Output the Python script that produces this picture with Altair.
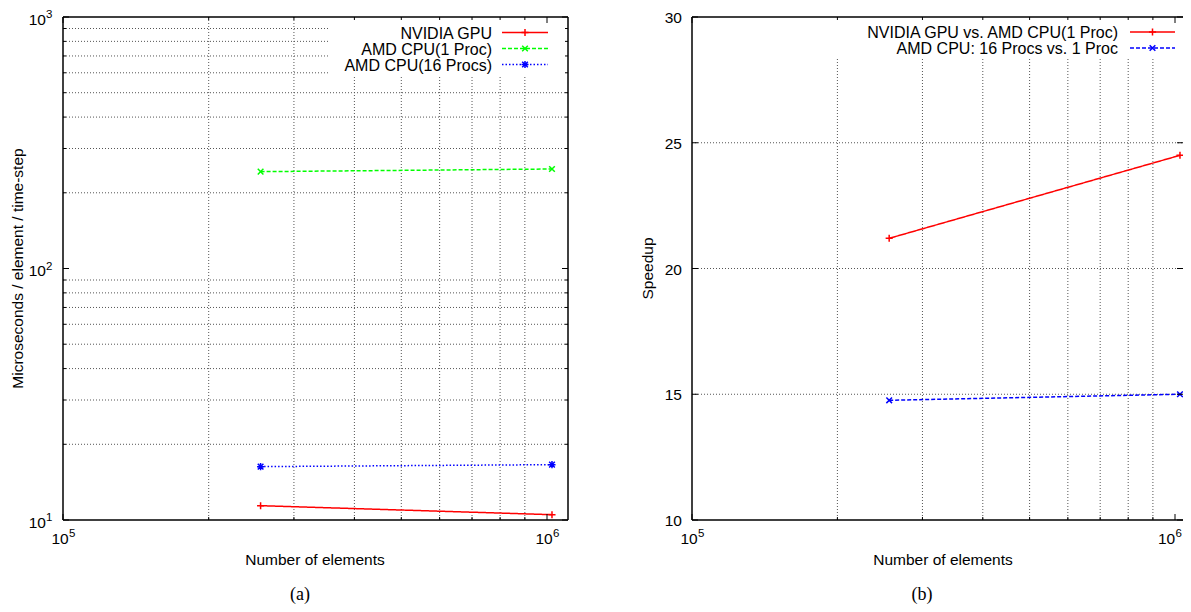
import altair as alt
import pandas as pd

# ---------------- data ----------------
elements = [256000, 1024000]
gpu_us = [11.4, 10.5]          # NVIDIA GPU, microseconds / element / time-step
cpu1_us = [242.7, 248.7]       # AMD CPU (1 Proc)
cpu16_us = [16.3, 16.6]        # AMD CPU (16 Procs)
speedup_gpu = [21.2, 24.5]     # NVIDIA GPU vs. AMD CPU(1 Proc)
speedup_cpu16 = [14.76, 15.0]  # AMD CPU: 16 Procs vs. 1 Proc

x_major = [1e5, 1e6]
x_major_exp = ["5", "6"]
x_minor = [2e5, 3e5, 4e5, 5e5, 6e5, 7e5, 8e5, 9e5]
ylog_major = [10, 100, 1000]
ylog_major_exp = ["1", "2", "3"]
ylog_minor = [20, 30, 40, 50, 60, 70, 80, 90, 200, 300, 400, 500, 600, 700, 800, 900]
ylin_major = [10, 15, 20, 25, 30]
ylin_grid = [15, 20, 25]

legend_a = ["NVIDIA GPU", "AMD CPU(1 Proc)", "AMD CPU(16 Procs)"]
legend_b = ["NVIDIA GPU vs. AMD CPU(1 Proc)", "AMD CPU: 16 Procs vs. 1 Proc"]

# ---------------- layout / styling ----------------
FONT = "Liberation Sans"
FS = 15.5
W, H = 1120, 503                 # whole drawing area (both panels), origin = top-left of panel (a)
AL, AR = 0, 505                  # panel (a) left / right edge
BL, BR = 629, 1120               # panel (b) left / right edge (right frame lies beyond the page)
DEC = 484                        # pixels per decade on the x axes
RED, GREEN, BLUE = "#ff0000", "#00ff00", "#0000ff"
GRID = "#555555"
PLUS = "M-1,0L1,0M0,-1L0,1"
CROSS = "M-0.8,-0.8L0.8,0.8M-0.8,0.8L0.8,-0.8"
STAR = "M-1,0L1,0M0,-1L0,1M-0.8,-0.8L0.8,0.8M-0.8,0.8L0.8,-0.8"
MSIZE = 50

one = pd.DataFrame({"k": [0]})

xs_a = alt.Scale(type="log", domain=[1e5, 1e6], range=[AL, AL + DEC], nice=False)
ys_a = alt.Scale(type="log", domain=[10, 1000], range=[H, 0], nice=False)
xs_b = alt.Scale(type="log", domain=[1e5, 1e6], range=[BL, BL + DEC - 1], nice=False)
ys_b = alt.Scale(domain=[10, 30], range=[H, 0], nice=False, zero=False)


def vals(v, **extra):
    d = {"v": v}
    d.update(extra)
    return pd.DataFrame(d)


def X(s):
    return alt.X("v:Q", scale=s, axis=None)


def Y(s):
    return alt.Y("v:Q", scale=s, axis=None)


def grid(xs, ys, x0, x1, ygrid):
    return [
        alt.Chart(vals(x_minor)).mark_rule(color=GRID, strokeDash=[1, 2], strokeWidth=1).encode(
            x=X(xs), y=alt.value(0), y2=alt.value(H)),
        alt.Chart(vals(ygrid)).mark_rule(color=GRID, strokeDash=[1, 2], strokeWidth=1).encode(
            y=Y(ys), x=alt.value(x0), x2=alt.value(x1)),
    ]


def ticks(xs, ys, x0, x1, ymaj, ymin):
    layers = []
    for lst, ln in ((x_major, 6), (x_minor, 3)):
        layers.append(alt.Chart(vals(lst)).mark_rule(color="black", strokeWidth=1).encode(
            x=X(xs), y=alt.value(H), y2=alt.value(H - ln)))
        layers.append(alt.Chart(vals(lst)).mark_rule(color="black", strokeWidth=1).encode(
            x=X(xs), y=alt.value(0), y2=alt.value(ln)))
    for lst, ln in ((ymaj, 6), (ymin, 3)):
        if not lst:
            continue
        layers.append(alt.Chart(vals(lst)).mark_rule(color="black", strokeWidth=1).encode(
            y=Y(ys), x=alt.value(x0), x2=alt.value(x0 + ln)))
        layers.append(alt.Chart(vals(lst)).mark_rule(color="black", strokeWidth=1).encode(
            y=Y(ys), x=alt.value(x1), x2=alt.value(x1 - ln)))
    return layers


def frame(x0, x1, right=True):
    sides = [(x0, x1, 0, 0), (x0, x1, H, H), (x0, x0, 0, H)]
    if right:
        sides.append((x1, x1, 0, H))
    return [alt.Chart(one).mark_rule(color="black", strokeWidth=1.5).encode(
        x=alt.value(a), x2=alt.value(b), y=alt.value(c), y2=alt.value(d)) for a, b, c, d in sides]


def series(xs, ys, yvals, color, dash, shape):
    df = pd.DataFrame({"n": elements, "v": yvals})
    base = alt.Chart(df).encode(x=alt.X("n:Q", scale=xs, axis=None), y=Y(ys))
    return [base.mark_line(color=color, strokeDash=dash, strokeWidth=1.5),
            base.mark_point(shape=shape, size=MSIZE, filled=False, color=color, strokeWidth=1.5, opacity=1)]


def legend(labels, styles, text_x, x1, x2, y0, dy):
    layers = []
    for i, (lab, (color, dash, shape)) in enumerate(zip(labels, styles)):
        yy = y0 + i * dy
        layers.append(alt.Chart(pd.DataFrame({"t": [lab]})).mark_text(
            font=FONT, fontSize=16, align="right", baseline="middle", color="black").encode(
            x=alt.value(text_x), y=alt.value(yy + 1), text="t:N"))
        layers.append(alt.Chart(one).mark_rule(color=color, strokeDash=dash, strokeWidth=1.5).encode(
            x=alt.value(x1), x2=alt.value(x2), y=alt.value(yy)))
        layers.append(alt.Chart(one).mark_point(shape=shape, size=MSIZE, filled=False, color=color,
                                                strokeWidth=1.5, opacity=1).encode(
            x=alt.value((x1 + x2) / 2), y=alt.value(yy)))
    return layers


def xlabel(xs, value, exp, shift=0):
    main = alt.Chart(vals([value], t=["10"])).mark_text(
        font=FONT, fontSize=FS, align="center", baseline="middle", dx=-3 + shift).encode(
        x=X(xs), y=alt.value(H + 18.5), text="t:N")
    sup = alt.Chart(vals([value], t=[exp])).mark_text(
        font=FONT, fontSize=11.5, align="left", baseline="middle", dx=6 + shift).encode(
        x=X(xs), y=alt.value(H + 14), text="t:N")
    return [main, sup]


def box(x1, x2, y2):
    return alt.Chart(one).mark_rect(color="white", opacity=1).encode(
        x=alt.value(x1), x2=alt.value(x2), y=alt.value(0), y2=alt.value(y2))


def text_at(t, x, y, size=FS, angle=0, font=FONT):
    kw = dict(font=font, fontSize=size, align="center", baseline="middle", color="black")
    if angle:
        kw["angle"] = angle
    return alt.Chart(pd.DataFrame({"t": [t]})).mark_text(**kw).encode(
        x=alt.value(x), y=alt.value(y), text="t:N")


layers = []

# ---------------- panel (a) ----------------
layers += grid(xs_a, ys_a, AL, AR, ylog_minor)
layers.append(box(267, AR, 59))
layers += series(xs_a, ys_a, gpu_us, RED, [1, 0], PLUS)
layers += series(xs_a, ys_a, cpu1_us, GREEN, [4, 2], CROSS)
layers += series(xs_a, ys_a, cpu16_us, BLUE, [1.5, 2], STAR)
layers += ticks(xs_a, ys_a, AL, AR, ylog_major, ylog_minor)
layers += frame(AL, AR)
layers += legend(legend_a, [(RED, [1, 0], PLUS), (GREEN, [4, 2], CROSS), (BLUE, [1.5, 2], STAR)],
                 429, 439, 485, 15.5, 16)
layers += xlabel(xs_a, x_major[0], x_major_exp[0])
layers += xlabel(xs_a, x_major[1], x_major_exp[1])
layers.append(alt.Chart(vals(ylog_major, t=["10"] * 3)).mark_text(
    font=FONT, fontSize=FS, align="right", baseline="middle", dy=2.5).encode(
    x=alt.value(AL - 17), y=Y(ys_a), text="t:N"))
layers.append(alt.Chart(vals(ylog_major, t=ylog_major_exp)).mark_text(
    font=FONT, fontSize=11.5, align="left", baseline="middle", dy=-2).encode(
    x=alt.value(AL - 17), y=Y(ys_a), text="t:N"))
layers.append(text_at("Microseconds / element / time-step", AL - 45, H / 2, angle=270))
layers.append(text_at("Number of elements", 252, H + 40))
layers.append(text_at("(a)", 237, H + 75, size=18, font="Liberation Serif"))

# ---------------- panel (b) ----------------
layers += grid(xs_b, ys_b, BL, BR, ylin_grid)
layers.append(box(767, BR, 40))
layers += series(xs_b, ys_b, speedup_gpu, RED, [1, 0], PLUS)
layers += series(xs_b, ys_b, speedup_cpu16, BLUE, [4, 2], CROSS)
layers += ticks(xs_b, ys_b, BL, BR, ylin_major, [])
layers += frame(BL, BR, right=False)
layers += legend(legend_b, [(RED, [1, 0], PLUS), (BLUE, [4, 2], CROSS)], 1055, 1067, 1112, 15, 16)
layers += xlabel(xs_b, x_major[0], x_major_exp[0])
layers += xlabel(xs_b, x_major[1], x_major_exp[1], shift=-5.5)
layers.append(alt.Chart(vals(ylin_major, t=[str(v) for v in ylin_major])).mark_text(
    font=FONT, fontSize=FS, align="right", baseline="middle", dy=1).encode(
    x=alt.value(BL - 10), y=Y(ys_b), text="t:N"))
layers.append(text_at("Speedup", BL - 44, H / 2, angle=270))
layers.append(text_at("Number of elements", 880, H + 40))
layers.append(text_at("(b)", 859, H + 75, size=18, font="Liberation Serif"))

chart = alt.layer(*layers).resolve_scale(x="independent", y="independent").properties(
    width=W, height=H,
    autosize=alt.AutoSizeParams(type="none"),
    padding={"left": 55, "top": 9, "right": 0, "bottom": 84},
).configure_view(stroke=None)

chart.save("out.html", embed_options={"renderer": "svg", "actions": False})
